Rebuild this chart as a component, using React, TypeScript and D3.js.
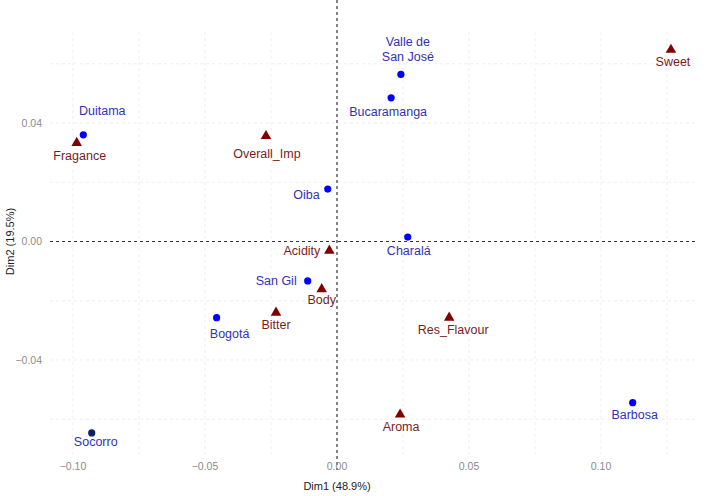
import React from "react";
import * as d3 from "d3";

// Rows (places) – CA biplot coordinates
const rowNames = ["Duitama", "Valle de San José", "Bucaramanga", "Oiba", "Charalá", "San Gil", "Bogotá", "Barbosa", "Socorro"];
const rowDim1 = [-0.0961, 0.0242, 0.0205, -0.0035, 0.0268, -0.0111, -0.0456, 0.112, -0.0929];
const rowDim2 = [0.036, 0.0564, 0.0485, 0.0177, 0.0015, -0.0133, -0.0257, -0.0544, -0.0646];

// Columns (attributes)
const colNames = ["Fragance", "Overall_Imp", "Sweet", "Acidity", "Body", "Bitter", "Res_Flavour", "Aroma"];
const colDim1 = [-0.0986, -0.0269, 0.1265, -0.0029, -0.0058, -0.0231, 0.0425, 0.0239];
const colDim2 = [0.0333, 0.0356, 0.0647, -0.0031, -0.0161, -0.024, -0.0257, -0.0584];

const xTicks = [-0.1, -0.05, 0, 0.05, 0.1];
const yTicks = [-0.04, 0, 0.04];
const xGrid = [-0.1, -0.075, -0.05, -0.025, 0.025, 0.05, 0.075, 0.1, 0.125];
const yGrid = [-0.06, -0.04, -0.02, 0.02, 0.04, 0.06];

const xTitle = "Dim1 (48.9%)";
const yTitle = "Dim2 (19.5%)";

// label placement (pixel nudges, like ggrepel output)
const labelNudge: Record<string, [number, number, string]> = {
  "Duitama": [19, -23, "middle"],
  "Valle de San José": [7, -24, "middle"],
  "Bucaramanga": [-3, 15, "middle"],
  "Oiba": [-8, 7, "end"],
  "Charalá": [1, 15, "middle"],
  "San Gil": [-11, 1, "end"],
  "Bogotá": [13, 17, "middle"],
  "Barbosa": [2, 13, "middle"],
  "Socorro": [4, 10, "middle"],
  "Fragance": [3, 14, "middle"],
  "Overall_Imp": [1, 19, "middle"],
  "Sweet": [2, 13, "middle"],
  "Acidity": [-9, 1, "end"],
  "Body": [0, 12, "middle"],
  "Bitter": [0, 13, "middle"],
  "Res_Flavour": [4, 13, "middle"],
  "Aroma": [1, 13, "middle"],
};

const W = 709, H = 496;
const panel = { left: 50, right: 695, top: 32, bottom: 456 };

export default function App() {
  const x = d3.scaleLinear().domain([-0.1, 0.1]).range([73, 601]);
  const y = d3.scaleLinear().domain([-0.04, 0.04]).range([360, 123]);
  const tri = d3.symbol().type(d3.symbolTriangle).size(48)();
  const font = "'Liberation Sans', Arial, sans-serif";
  const rowLabelColor = "#3232b4";
  const colLabelColor = "#7a1c1c";

  const renderLabel = (name: string, px: number, py: number, color: string) => {
    const [dx, dy, anchor] = labelNudge[name];
    const lines = name === "Valle de San José" ? ["Valle de", "San José"] : [name];
    return (
      <text key={"l" + name} x={px + dx} y={py + dy} textAnchor={anchor as any} fill={color}
        fontSize={12.5} fontFamily={font} dominantBaseline="middle">
        {lines.map((ln, i) => (
          <tspan key={i} x={px + dx} dy={i === 0 ? (lines.length > 1 ? -7.3 : 0) : 14.6}>{ln}</tspan>
        ))}
      </text>
    );
  };

  return (
    <svg width={W} height={H} style={{ position: "absolute", left: 0, top: 0, background: "#fff" }}>
      <rect x={0} y={0} width={W} height={H} fill="#fff" />
      {/* grid */}
      {xGrid.map((v) => (
        <line key={"gx" + v} x1={x(v)} x2={x(v)} y1={panel.top} y2={panel.bottom}
          stroke="#e6e6e6" strokeWidth={0.7} strokeDasharray="3,3" />
      ))}
      {yGrid.map((v) => (
        <line key={"gy" + v} y1={y(v)} y2={y(v)} x1={panel.left} x2={panel.right}
          stroke="#e6e6e6" strokeWidth={0.7} strokeDasharray="3,3" />
      ))}
      {/* zero lines */}
      <line x1={panel.left} x2={panel.right} y1={y(0)} y2={y(0)} stroke="#333" strokeWidth={1.2} strokeDasharray="3,3" />
      <line x1={x(0)} x2={x(0)} y1={0} y2={panel.bottom + 14} stroke="#333" strokeWidth={1.2} strokeDasharray="3,3" />

      {/* ticks */}
      {xTicks.map((v) => (
        <text key={"tx" + v} x={x(v)} y={467} textAnchor="middle" dominantBaseline="middle"
          fontSize={10.5} fill="#8c8c8c" fontFamily={font}>
          {d3.format(".2f")(v).replace("-", "\u2212")}
        </text>
      ))}
      {yTicks.map((v) => (
        <text key={"ty" + v} x={42} y={y(v) + 1} textAnchor="end" dominantBaseline="middle"
          fontSize={10.5} fill="#8c8c8c" fontFamily={font}>
          {d3.format(".2f")(v).replace("-", "\u2212")}
        </text>
      ))}
      <text x={x(0)} y={487} textAnchor="middle" dominantBaseline="middle" fontSize={11} fill="#222" fontFamily={font}>{xTitle}</text>
      <text transform={`translate(11,${y(0)}) rotate(-90)`} textAnchor="middle" dominantBaseline="middle"
        fontSize={11} fill="#222" fontFamily={font}>{yTitle}</text>

      {/* rows */}
      {rowNames.map((n, i) => (
        <circle key={"p" + n} cx={x(rowDim1[i])} cy={y(rowDim2[i])} r={3.6}
          fill={n === "Socorro" ? "#0c1f5e" : "#0000ff"} />
      ))}
      {/* cols */}
      {colNames.map((n, i) => (
        <path key={"t" + n} d={tri as string} transform={`translate(${x(colDim1[i])},${y(colDim2[i])})`} fill="#800000" />
      ))}
      {rowNames.map((n, i) => renderLabel(n, x(rowDim1[i]), y(rowDim2[i]), rowLabelColor))}
      {colNames.map((n, i) => renderLabel(n, x(colDim1[i]), y(colDim2[i]), colLabelColor))}
    </svg>
  );
}
